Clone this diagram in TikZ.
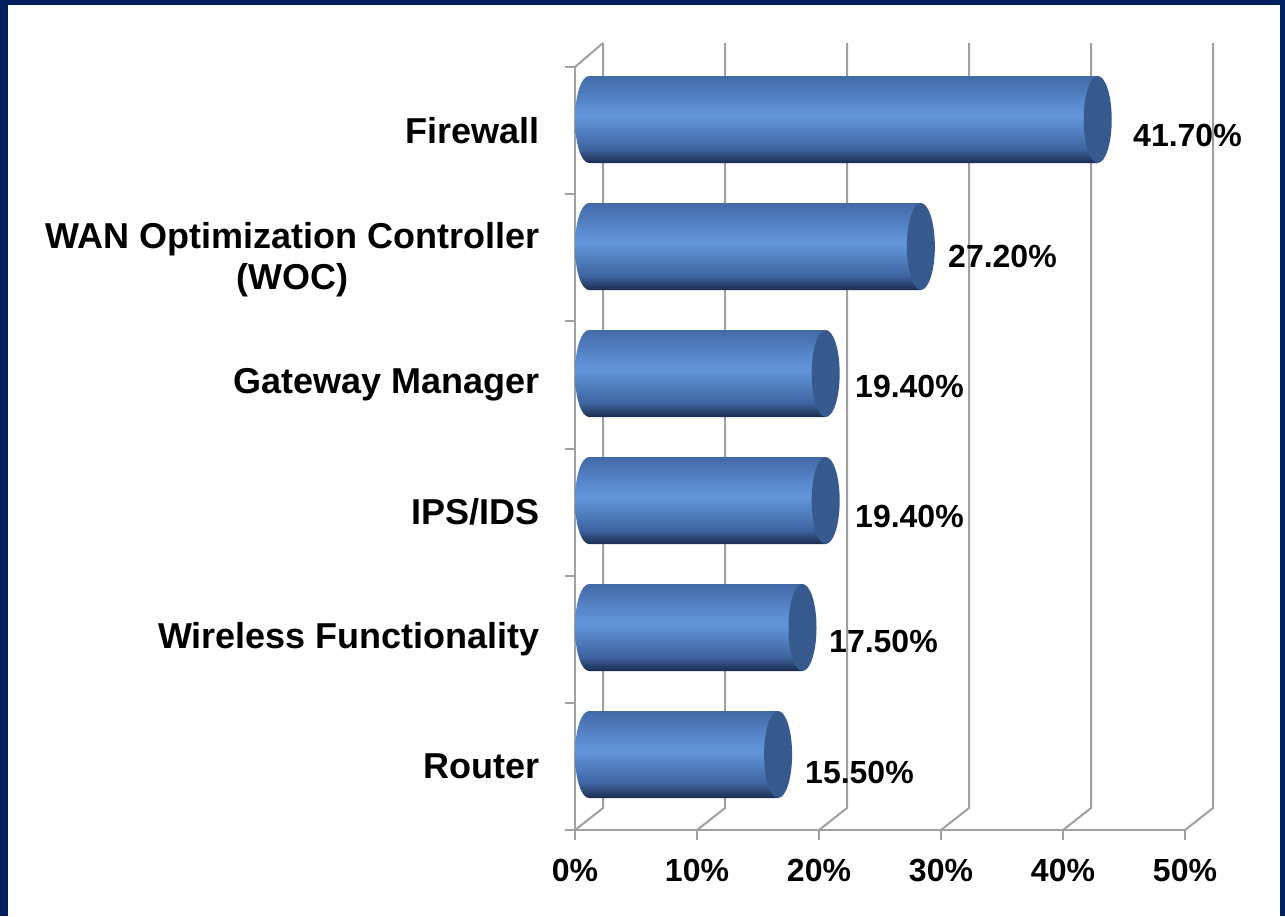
\documentclass[tikz,border=0pt]{standalone}
\usepackage{fontspec}
\setmainfont{Liberation Sans}
\definecolor{navy}{RGB}{0,32,96}
\definecolor{gridg}{RGB}{160,160,160}
\definecolor{bartop}{RGB}{66,106,166}
\definecolor{barup}{RGB}{82,128,196}
\definecolor{barmid}{RGB}{98,150,220}
\definecolor{barlow}{RGB}{62,100,160}
\definecolor{barbot}{RGB}{26,44,78}
\definecolor{capc}{RGB}{54,90,142}
\pgfdeclareverticalshading{cylshade}{100bp}{%
  color(0bp)=(barbot); color(25bp)=(barbot); color(33bp)=(barlow);
  color(52bp)=(barmid); color(64bp)=(barup); color(75bp)=(bartop); color(100bp)=(bartop)}
\tikzset{
  grid line/.style={draw=gridg, line width=2pt},
  catlab/.style={font=\fontsize{36}{41}\selectfont\bfseries, align=center, anchor=east, inner sep=0pt},
  vallab/.style={font=\fontsize{32}{36}\selectfont\bfseries, anchor=west, inner sep=0pt},
  axlab/.style={font=\fontsize{32}{36}\selectfont\bfseries, inner sep=0pt},
  barshade/.style={shading=cylshade, draw=none},
  capstyle/.style={fill=capc, draw=none}
}
\newcommand\cylbar[2]{%
  \pgfmathsetmacro\xe{589+12.2*#2}%
  \pgfmathsetmacro\yt{#1-43.5}%
  \pgfmathsetmacro\yb{#1+43.5}%
  \shade[barshade] (589,\yt) -- (\xe,\yt) -- (\xe,\yb) -- (589,\yb)
     arc[start angle=90, end angle=270, x radius=14, y radius=43.5] -- cycle;
  \fill[capstyle] (\xe,#1) ellipse[x radius=14, y radius=43.5];
}
\begin{document}
\begin{tikzpicture}[x=1pt,y=-1pt]
\useasboundingbox (0,0) rectangle (1285,916);
\fill[white] (0,0) rectangle (1285,916);
% frame
\fill[navy] (0,0) rectangle (1285,5);
\fill[navy] (0,0) rectangle (8,916);
\fill[navy] (1280,0) rectangle (1285,916);
% grid: back wall verticals and floor diagonals
\foreach \k in {0,...,5} {
  \coordinate (f\k) at ({575+122*\k},830);
  \coordinate (b\k) at ({603+122*\k},808);
  \coordinate (t\k) at ({603+122*\k},43);
  \draw[grid line] (f\k) -- (b\k) -- (t\k);
  \draw[grid line] (f\k) -- ++(0,10);
}
% left wall
\coordinate (lt) at (575,67);
\draw[grid line] (lt) -- (t0);
\draw[grid line] (lt) -- (f0) -- (f5);
\foreach \i in {0,...,6} {
  \draw[grid line] ({575},{67+127.17*\i}) -- ++(-10,0);
}
% bars
\cylbar{119.5}{41.7}
\cylbar{246.5}{27.2}
\cylbar{373.5}{19.4}
\cylbar{500.5}{19.4}
\cylbar{627.5}{17.5}
\cylbar{754.5}{15.5}
% category labels
\node[catlab] (c1) at (540,131) {Firewall};
\node[catlab] (c2) at (540,260) {WAN Optimization Controller\\(WOC)};
\node[catlab] (c3) at (540,385) {Gateway Manager};
\node[catlab] (c4) at (540,512) {IPS/IDS};
\node[catlab] (c5) at (540,639) {Wireless Functionality};
\node[catlab] (c6) at (540,766) {Router};
% value labels
\node[vallab] (v1) at (1133,135) {41.70\%};
\node[vallab] (v2) at (948,256) {27.20\%};
\node[vallab] (v3) at (855,386) {19.40\%};
\node[vallab] (v4) at (855,516) {19.40\%};
\node[vallab] (v5) at (829,641) {17.50\%};
\node[vallab] (v6) at (805,772) {15.50\%};
% axis labels
\foreach \k/\t in {0/0,1/10,2/20,3/30,4/40,5/50} {
  \node[axlab] (a\k) at ({575+122*\k},870) {\t\%};
}
\end{tikzpicture}
\end{document}
